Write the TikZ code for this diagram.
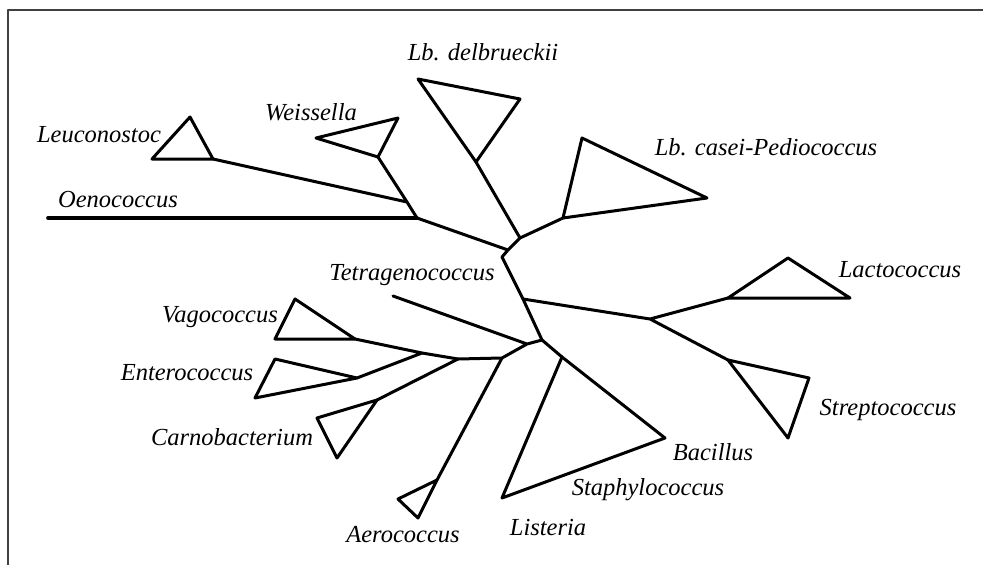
\documentclass[tikz,border=0pt]{standalone}
\usepackage{fontspec}
\setmainfont{Liberation Serif}
\begin{document}
\begin{tikzpicture}[x=1pt,y=-1pt,line cap=round,line join=round,
		br/.style={line width=3pt},
		tx/.style={anchor=base,inner sep=0pt,font=\fontsize{24.5}{28}\selectfont\itshape}]
			\useasboundingbox (0,0) rectangle (983,565);
			\draw[line width=2pt,black!75] (8,567)--(8,10)--(985,10);
			% inner nodes of the tree
			\coordinate (jA) at (407,202);
			\coordinate (jB) at (417,218);
			\coordinate (jC) at (520,238);
			\coordinate (jD) at (508,250);
			\coordinate (jE) at (502,257);
			\coordinate (jF) at (523,299);
			\coordinate (jG) at (650,319);
			\coordinate (jH) at (542,340);
			\coordinate (jI) at (527,344);
			\coordinate (jJ) at (502,358);
			\coordinate (jK) at (458,359);
			\coordinate (jL) at (422,353);
			% groups
			\coordinate (leu1) at (213,159); \coordinate (leu2) at (190,117); \coordinate (leu3) at (152,159);
			\coordinate (wei1) at (378,157); \coordinate (wei2) at (398,118); \coordinate (wei3) at (316,138);
			\coordinate (oen) at (48,218);
			\coordinate (del1) at (476,162); \coordinate (del2) at (418,79); \coordinate (del3) at (520,99);
			\coordinate (cas1) at (563,218); \coordinate (cas2) at (582,138); \coordinate (cas3) at (707,198);
			\coordinate (lac1) at (728,298); \coordinate (lac2) at (788,258); \coordinate (lac3) at (850,298);
			\coordinate (str1) at (728,360); \coordinate (str2) at (809,378); \coordinate (str3) at (788,438);
			\coordinate (bac1) at (562,357); \coordinate (bac2) at (665,438); \coordinate (bac3) at (502,498);
			\coordinate (tet) at (393,296);
			\coordinate (vag1) at (355,339); \coordinate (vag2) at (295,299); \coordinate (vag3) at (275,339);
			\coordinate (ent1) at (357,378); \coordinate (ent2) at (275,359); \coordinate (ent3) at (255,398);
			\coordinate (car1) at (377,400); \coordinate (car2) at (317,418); \coordinate (car3) at (337,458);
			\coordinate (aer1) at (437,480); \coordinate (aer2) at (398,499); \coordinate (aer3) at (418,518);
			% branches
			\draw[br,line width=3.6pt] (oen)--(jB);
			\draw[br] (leu1)--(jA) (wei1)--(jA) (jA)--(jB) (jB)--(jD);
			\draw[br] (del1)--(jC) (jC)--(cas1) (jC)--(jD) (jD)--(jE)--(jF)--(jH);
			\draw[br] (jF)--(jG) (jG)--(lac1) (jG)--(str1) (jH)--(bac1);
			\draw[br] (jH)--(jI) (tet)--(jI) (jI)--(jJ) (jJ)--(jK) (jK)--(jL);
			\draw[br] (jL)--(vag1) (jL)--(ent1) (jK)--(car1) (jJ)--(aer1);
			\foreach \g in {leu,wei,del,cas,lac,str,bac,vag,ent,car,aer}
				\draw[br] (\g1)--(\g2)--(\g3)--cycle;
			% labels
			\node[tx] (Ldel) at (483,60) {Lb. delbrueckii};
			\node[tx] (Lleu) at (99,142) {Leuconostoc};
			\node[tx] (Lwei) at (311,120) {Weissella};
			\node[tx] (Loen) at (118,207) {Oenococcus};
			\node[tx] (Lcas) at (766,155) {Lb. casei-Pediococcus};
			\node[tx] (Ltet) at (412,280) {Tetragenococcus};
			\node[tx] (Llac) at (900,277) {Lactococcus};
			\node[tx] (Lvag) at (220,322) {Vagococcus};
			\node[tx] (Lent) at (187,380) {Enterococcus};
			\node[tx] (Lcar) at (232,445) {Carnobacterium};
			\node[tx] (Lstr) at (888,415) {Streptococcus};
			\node[tx] (Lbac) at (713,460) {Bacillus};
			\node[tx] (Lsta) at (648,495) {Staphylococcus};
			\node[tx] (Llis) at (548,535) {Listeria};
			\node[tx] (Laer) at (403,542) {Aerococcus};
		\end{tikzpicture}
\end{document}
